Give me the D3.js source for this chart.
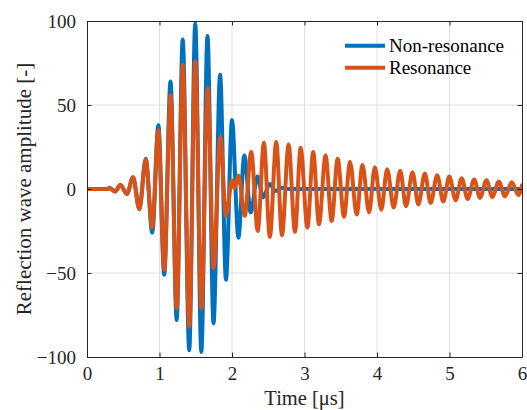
<!DOCTYPE html>
<html><head><meta charset="utf-8">
<script src="https://cdn.jsdelivr.net/npm/d3@7"></script>
<style>
body{margin:0;background:#fff}svg{display:block}
svg text{font-family:"Liberation Serif","DejaVu Serif","Times New Roman",serif !important}
</style>
</head><body><svg id="c" width="527" height="410"></svg>
<script>
const xTicks = [0, 1, 2, 3, 4, 5, 6];
const yTicks = [-100, -50, 0, 50, 100];
const seriesNames = ["Non-resonance", "Resonance"];

const nonResTime = [0, 0.28, 0.31, 0.386, 0.46, 0.55, 0.635, 0.722, 0.81, 0.9, 0.984, 1.065, 1.152, 1.237, 1.32, 1.41, 1.493, 1.577, 1.662, 1.745, 1.836, 1.917, 2.0, 2.088, 2.17, 2.258, 2.35, 2.43, 2.52, 2.6, 2.69, 2.78, 6.0];
const nonResValue = [0, 0, 0.6, -1.5, 2.4, -3, 7, -12, 18, -26, 38, -51, 64, -78, 89, -96, 98.5, -97, 91, -80, 68, -54, 41, -29, 20, -14, 7.5, -5, 3, -1.2, 0.8, 0, 0];

const resTime = [0, 0.28, 0.31, 0.386, 0.46, 0.55, 0.635, 0.722, 0.81, 0.9, 0.984, 1.065, 1.152, 1.237, 1.32, 1.41, 1.493, 1.577, 1.665, 1.747, 1.838, 1.917, 2.0, 2.035, 2.09, 2.175, 2.265, 2.355, 2.44, 2.522, 2.61, 2.69, 2.78, 2.869, 2.947, 3.04, 3.12, 3.2, 3.29, 3.375, 3.457, 3.545, 3.628, 3.72, 3.8, 3.89, 3.97, 4.06, 4.14, 4.23, 4.32, 4.4, 4.49, 4.57, 4.66, 4.74, 4.83, 4.915, 4.997, 5.085, 5.168, 5.25, 5.34, 5.42, 5.51, 5.59, 5.68, 5.765, 5.86, 5.95, 6.0];
const resValue = [0, 0, 0.6, -1.5, 2.4, -3, 7, -12, 17.5, -23, 35, -48, 56, -71, 74, -82, 76, -71, 60, -47, 31, -16, 5, 0.5, 8, -16, 22, -25, 27.5, -28.5, 28, -27.5, 26.5, -25.5, 24.5, -23, 22, -21, 20, -19, 18, -16.5, 16, -15.2, 14.3, -14, 13, -12.3, 11.8, -11, 10.8, -10.2, 10, -9.2, 9.2, -8.3, 8.2, -7.5, 7.4, -6.7, 6.4, -6, 5.7, -5.3, 5.2, -4.8, 4.4, -4.3, 4, -3.6, 2.2];

const colors = ["#0072BD", "#D95319"];
const font = "Liberation Serif";
const ink = "#262626";

const L = 87, R = 522, T = 21, B = 357;
const svg = d3.select("#c");
const x = d3.scaleLinear().domain([0, 6]).range([L, R]);
const y = d3.scaleLinear().domain([-100, 100]).range([B, T]);

// grid
const g = svg.append("g");
g.selectAll(".gx").data(xTicks.slice(1, -1)).join("line")
  .attr("x1", d => x(d)).attr("x2", d => x(d)).attr("y1", T).attr("y2", B)
  .attr("stroke", "#dfdfdf").attr("stroke-width", 1);
g.selectAll(".gy").data(yTicks.slice(1, -1)).join("line")
  .attr("y1", d => y(d)).attr("y2", d => y(d)).attr("x1", L).attr("x2", R)
  .attr("stroke", "#dfdfdf").attr("stroke-width", 1);

svg.append("clipPath").attr("id", "clip").append("rect")
  .attr("x", L).attr("y", T).attr("width", R - L).attr("height", B - T);

const line = d3.line().x(d => x(d[0])).y(d => y(d[1])).curve(d3.curveMonotoneX);
const series = [d3.zip(nonResTime, nonResValue), d3.zip(resTime, resValue)];
svg.append("g").attr("clip-path", "url(#clip)").selectAll("path").data(series).join("path")
  .attr("d", line).attr("fill", "none")
  .attr("stroke", (d, i) => colors[i]).attr("stroke-width", 4)
  .attr("stroke-linejoin", "round").attr("stroke-linecap", "round");

// axes
const fmt = d => d < 0 ? "\u2212" + Math.abs(d) : String(d);
const axB = svg.append("g").attr("transform", `translate(0,${B})`)
  .call(d3.axisBottom(x).tickValues(xTicks).tickSizeInner(-4.5).tickSizeOuter(0).tickPadding(10).tickFormat(fmt));
const axT = svg.append("g").attr("transform", `translate(0,${T})`)
  .call(d3.axisTop(x).tickValues(xTicks).tickSizeInner(-4.5).tickSizeOuter(0).tickFormat(""));
const axL = svg.append("g").attr("transform", `translate(${L},0)`)
  .call(d3.axisLeft(y).tickValues(yTicks).tickSizeInner(-4.5).tickSizeOuter(0).tickPadding(11).tickFormat(fmt));
const axR = svg.append("g").attr("transform", `translate(${R},0)`)
  .call(d3.axisRight(y).tickValues(yTicks).tickSizeInner(-4.5).tickSizeOuter(0).tickFormat(""));
[axB, axT, axL, axR].forEach(a => {
  a.attr("font-family", font);
  a.select(".domain").attr("stroke", ink).attr("stroke-width", 1);
  a.selectAll(".tick line").attr("stroke", ink);
  a.selectAll("text").attr("fill", ink).attr("font-family", font).attr("font-size", 19);
});
axB.selectAll("text").attr("dy", "0.71em");

svg.append("text").attr("x", (L + R) / 2).attr("y", 405).attr("text-anchor", "middle")
  .attr("font-family", font).attr("font-size", 20.5).attr("fill", ink)
  .text("Time [\u03bcs]");
svg.append("text").attr("transform", `translate(31,${(T + B) / 2}) rotate(-90)`).attr("text-anchor", "middle")
  .attr("font-family", font).attr("font-size", 21).attr("fill", ink)
  .text("Reflection wave amplitude [-]");

// legend
const lg = svg.append("g");
seriesNames.forEach((n, i) => {
  const ly = 45.7 + i * 22;
  lg.append("line").attr("x1", 345).attr("x2", 385).attr("y1", ly).attr("y2", ly)
    .attr("stroke", colors[i]).attr("stroke-width", 4);
  lg.append("text").attr("x", 389).attr("y", ly + 6).attr("font-family", font)
    .attr("font-size", 19).attr("fill", "#000").text(n);
});
</script></body></html>
